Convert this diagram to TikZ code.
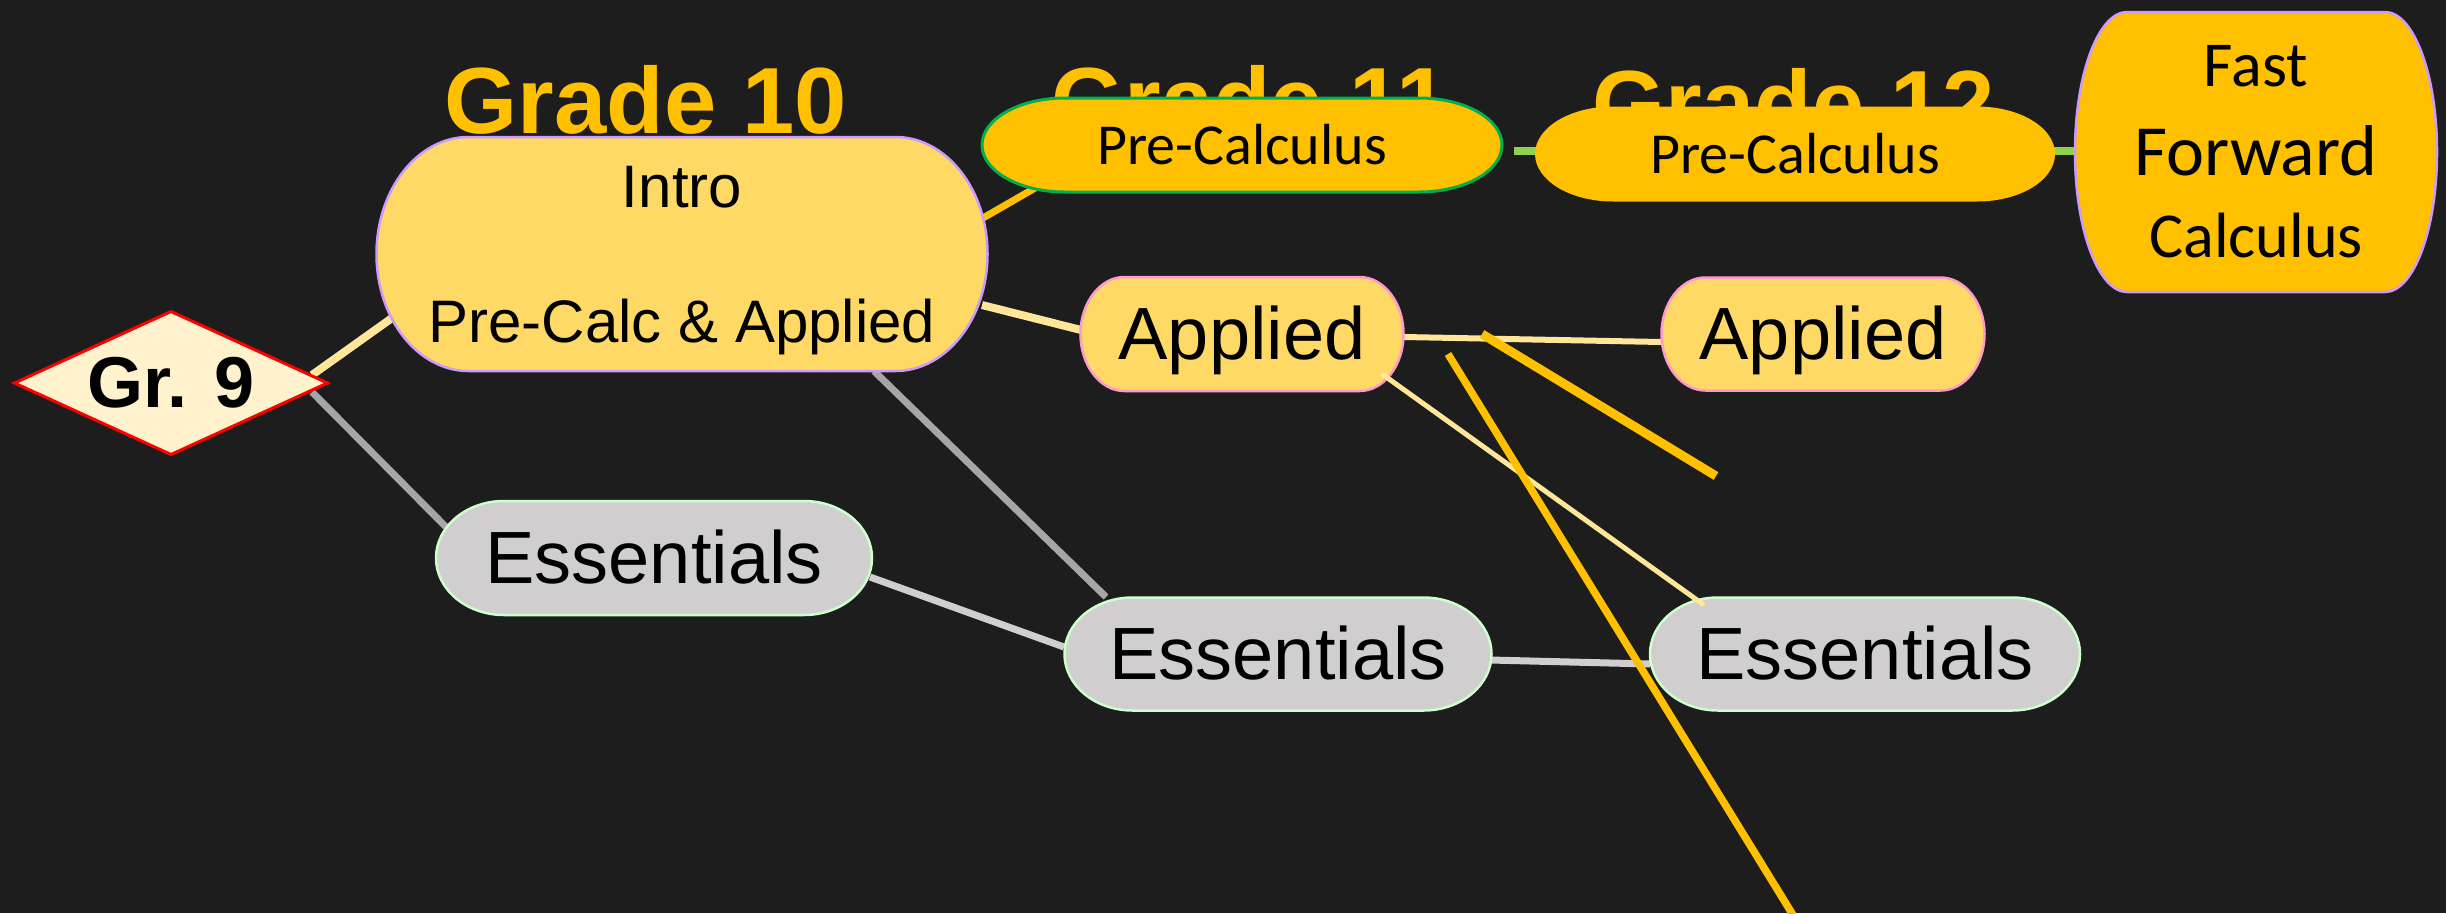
\documentclass[tikz,border=0pt]{standalone}
\usepackage{fontspec}
\setmainfont{Liberation Sans}
\newfontfamily\calfont{Carlito}
\usetikzlibrary{calc}
\pgfdeclarelayer{bgl}
\pgfdeclarelayer{linel}
\pgfdeclarelayer{shapel}
\pgfsetlayers{bgl,linel,shapel,main}

\definecolor{bgc}{HTML}{1D1D1D}
\definecolor{gold}{HTML}{FFC000}
\definecolor{ltgold}{HTML}{FFD966}
\definecolor{paleyel}{HTML}{FFE699}
\definecolor{cream}{HTML}{FFF2CC}
\definecolor{lav}{HTML}{CC99FF}
\definecolor{pinkb}{HTML}{FF99CC}
\definecolor{grnb}{HTML}{00B050}
\definecolor{ltgrn}{HTML}{CCFFCC}
\definecolor{lime}{HTML}{92D050}
\definecolor{silver}{HTML}{D0CECE}
\definecolor{midgray}{HTML}{A6A6A6}

\newcommand\roundshape[4]{%
  \begin{pgfonlayer}{shapel}
  \path[#4] ($(#1.north west)+(#2,0pt)$) -- ($(#1.north east)+(-#2,0pt)$)
    arc[start angle=90,end angle=0,x radius=#2,y radius=#3]
    -- ($(#1.south east)+(0pt,#3)$)
    arc[start angle=0,end angle=-90,x radius=#2,y radius=#3]
    -- ($(#1.south west)+(#2,0pt)$)
    arc[start angle=270,end angle=180,x radius=#2,y radius=#3]
    -- ($(#1.north west)+(0pt,-#3)$)
    arc[start angle=180,end angle=90,x radius=#2,y radius=#3] -- cycle;
  \end{pgfonlayer}}

\tikzset{
  box/.style={inner sep=0pt, outer sep=0pt},
  arialtxt/.style={font=\fontsize{74}{85}\selectfont, text height=67pt, text depth=15.7pt},
  calitxt/.style={font=\calfont\fontsize{58}{70}\selectfont, text height=55.2pt, text depth=15.6pt},
  title/.style={font=\bfseries\fontsize{94}{108}\selectfont, text=gold, anchor=base, inner sep=0pt},
  introfill/.style={fill=ltgold, draw=lav, line width=2.5pt},
  pcfill/.style={fill=gold, draw=grnb, line width=3pt},
  pctwofill/.style={fill=gold},
  fffill/.style={fill=gold, draw=lav, line width=2.5pt},
  apfill/.style={fill=ltgold, draw=pinkb, line width=2.5pt},
  esfill/.style={fill=silver, draw=ltgrn, line width=2.5pt},
  grfill/.style={fill=cream, draw=red, line width=3pt, line join=miter},
  yelline/.style={draw=paleyel, line width=8pt},
  midyel/.style={draw=paleyel, line width=6pt},
  thinyel/.style={draw=paleyel, line width=5pt},
  grayline/.style={draw=midgray, line width=7pt},
  silverline/.style={draw=silver, line width=7pt},
  goldline/.style={draw=gold, line width=7pt},
  limeline/.style={draw=lime, line width=8pt},
  stray/.style={draw=gold},
}

\begin{document}
\begin{tikzpicture}[x=1pt,y=-1pt]
\begin{pgfonlayer}{bgl}
\fill[bgc] (0,0) rectangle (2446,913);
\end{pgfonlayer}
\useasboundingbox (0,0) rectangle (2446,913);

% nodes (text)
\node[box, minimum width=313pt, minimum height=143pt, font=\bfseries\fontsize{72}{83}\selectfont] (gr9) at (171,383) {Gr. 9};
\node[box, minimum width=611pt, minimum height=234pt, align=center, font=\fontsize{60}{69}\selectfont] (intro) at (682,254) {\rule{0pt}{55pt}Intro\\[66pt]Pre-Calc \& Applied};
\node[box, minimum width=520pt, minimum height=94pt, calitxt] (pc11) at (1242,145) {Pre-Calculus};
\node[box, minimum width=520pt, minimum height=95pt, calitxt] (pc12) at (1795,154) {Pre-Calculus};
\node[box, minimum width=362pt, minimum height=280pt, align=center, font=\calfont\fontsize{64}{89}\selectfont] (ff) at (2256,152) {Fast\\{\fontsize{72}{89}\selectfont Forward}\\[-7pt]Calculus};
\node[box, minimum width=323pt, minimum height=114pt, arialtxt] (ap11) at (1242,334) {Applied};
\node[box, minimum width=323pt, minimum height=113pt, arialtxt] (ap12) at (1823,334) {Applied};
\node[box, minimum width=436pt, minimum height=114pt, arialtxt] (es10) at (654,558) {Essentials};
\node[box, minimum width=427pt, minimum height=113pt, arialtxt] (es11) at (1278,654) {Essentials};
\node[box, minimum width=430pt, minimum height=113pt, arialtxt] (es12) at (1865,654) {Essentials};

% shapes
\roundshape{intro}{92pt}{117pt}{introfill}
\roundshape{pc11}{83pt}{47pt}{pcfill}
\roundshape{pc12}{78pt}{47.5pt}{pctwofill}
\roundshape{ff}{52pt}{140pt}{fffill}
\roundshape{ap11}{44pt}{57pt}{apfill}
\roundshape{ap12}{44pt}{56.5pt}{apfill}
\roundshape{es10}{68pt}{57pt}{esfill}
\roundshape{es11}{68pt}{56.5pt}{esfill}
\roundshape{es12}{68pt}{56.5pt}{esfill}
\begin{pgfonlayer}{shapel}
\path[grfill] (gr9.west) -- (gr9.north) -- (gr9.east) -- (gr9.south) -- cycle;
\end{pgfonlayer}

% titles and connectors
\begin{pgfonlayer}{linel}
\node[title] (g10) at (646,133) {Grade 10};
\node[title] (g11) at (1250,133) {Grade 11};
\node[title] (g12) at (1794,136) {Grade 12};

\draw[yelline] ([shift={(141,-8)}]gr9.center) -- ([shift={(-290,64)}]intro.center);
\draw[grayline] ([shift={(141,9)}]gr9.center) -- ([shift={(-208,-31)}]es10.center);
\draw[goldline] ([shift={(301,-36)}]intro.center) -- ([shift={(-200,39)}]pc11.center);
\draw[yelline] ([shift={(300,51)}]intro.center) -- ([shift={(-161,-4)}]ap11.center);
\draw[grayline] ([shift={(192,117)}]intro.center) -- ([shift={(-172,-57)}]es11.center);
\draw[silverline] ([shift={(216,19)}]es10.center) -- ([shift={(-214,-7)}]es11.center);
\draw[limeline] ([shift={(272,6)}]pc11.center) -- ([shift={(-258,-3)}]pc12.center);
\draw[limeline] ([shift={(258,-3)}]pc12.center) -- ([shift={(-181,-1)}]ff.center);
\draw[midyel] ([shift={(162,3)}]ap11.center) -- ([shift={(-162,8)}]ap12.center);
\draw[silverline] ([shift={(212,6)}]es11.center) -- ([shift={(-215,10)}]es12.center);
\end{pgfonlayer}
\draw[thinyel] ([shift={(140,40)}]ap11.center) -- ([shift={(-161,-49)}]es12.center);

% free-standing lines
\coordinate (sa1) at (1482,334);
\coordinate (sa2) at (1716,476);
\coordinate (sb1) at (1448,354);
\coordinate (sb2) at (1793,915);
\draw[stray, line width=9pt] (sa1) -- (sa2);
\draw[stray, line width=7.5pt] (sb1) -- (sb2);
\end{tikzpicture}
\end{document}
